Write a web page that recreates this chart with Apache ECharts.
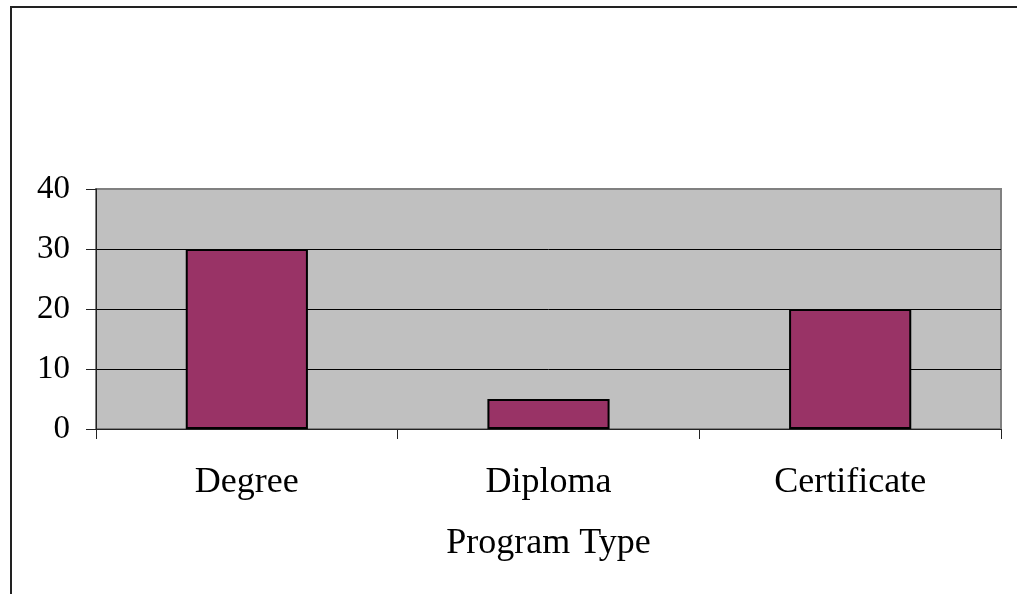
<!DOCTYPE html>
<html>
<head>
<meta charset="utf-8">
<script src="https://cdn.jsdelivr.net/npm/echarts@6/dist/echarts.min.js"></script>
<style>
  html, body { margin: 0; padding: 0; background: #ffffff; }
  #chart { width: 1017px; height: 594px; }
</style>
</head>
<body>
<div id="chart"></div>
<script>
// Program counts by type
const categories = ['Degree', 'Diploma', 'Certificate'];
const programCounts = [30, 5, 20];
const yTicks = { min: 0, max: 40, interval: 10 };

const FONT = '"Liberation Serif", "Times New Roman", serif';
const chart = echarts.init(document.getElementById('chart'));

chart.setOption({
  animation: false,
  backgroundColor: '#ffffff',
  graphic: [{
    type: 'rect',
    shape: { x: 11, y: 7, width: 1100, height: 700 },
    style: { fill: 'none', stroke: '#222222', lineWidth: 2 },
    silent: true
  }],
  grid: {
    left: 96, right: 16, top: 189, bottom: 165,
    show: true,
    backgroundColor: '#c0c0c0',
    borderColor: '#808080',
    borderWidth: 2
  },
  xAxis: {
    type: 'category',
    data: categories,
    name: 'Program Type',
    nameLocation: 'middle',
    nameGap: 97,
    nameTextStyle: { fontFamily: FONT, fontSize: 36, color: '#000' },
    axisLine: { lineStyle: { color: '#222', width: 1 } },
    axisTick: { show: true, length: 10, lineStyle: { color: '#222' } },
    axisLabel: { margin: 36, fontFamily: FONT, fontSize: 36, color: '#000' }
  },
  yAxis: {
    type: 'value',
    min: yTicks.min, max: yTicks.max, interval: yTicks.interval,
    axisLine: { show: true, lineStyle: { color: '#222', width: 1 } },
    axisTick: { show: true, length: 10, lineStyle: { color: '#222' } },
    axisLabel: { margin: 26, fontFamily: FONT, fontSize: 33, color: '#000' },
    splitLine: { show: true, lineStyle: { color: ['#000', '#000', '#000', '#000', '#808080'], width: 1 } }
  },
  series: [{
    type: 'bar',
    data: programCounts,
    barWidth: '40.5%',
    itemStyle: { color: '#993366', borderColor: '#000', borderWidth: 2 }
  }]
});
</script>
</body>
</html>
